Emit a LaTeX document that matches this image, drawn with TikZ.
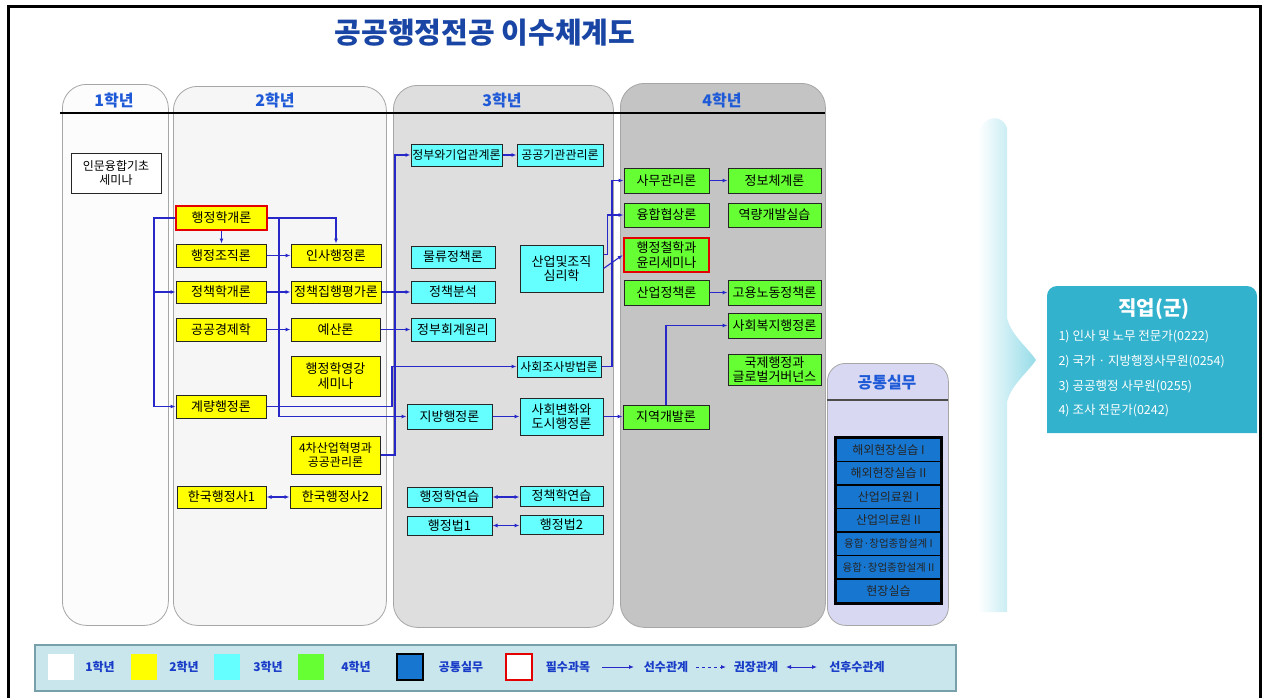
\documentclass[tikz,border=0pt]{standalone}
\usepackage{fontspec}
\newfontfamily\kr{Noto Sans CJK KR}
\usetikzlibrary{arrows.meta}
\definecolor{lineblue}{RGB}{40,40,200}
\definecolor{ybox}{RGB}{255,255,0}
\definecolor{cbox}{RGB}{102,255,255}
\definecolor{gbox}{RGB}{102,255,51}
\definecolor{pbox}{RGB}{22,118,208}
\definecolor{hdr}{RGB}{30,90,215}
\definecolor{ttl}{RGB}{25,70,165}
\definecolor{col1}{RGB}{252,252,252}
\definecolor{col2}{RGB}{246,246,246}
\definecolor{col3}{RGB}{222,222,222}
\definecolor{col4}{RGB}{196,196,196}
\definecolor{colp}{RGB}{216,216,242}
\definecolor{jobc}{RGB}{50,178,204}
\definecolor{legc}{RGB}{200,230,236}
\definecolor{legb}{RGB}{120,160,170}
\definecolor{arrowc}{RGB}{150,220,232}
\definecolor{legtext}{RGB}{25,60,200}
\begin{document}
\begin{tikzpicture}[x=1pt,y=-1pt,
  course/.style={draw=black!85, line width=1pt, inner sep=0pt, align=center, font=\kr\fontsize{13}{14.5}\selectfont},
  yb/.style={course, fill=ybox},
  cb/.style={course, fill=cbox},
  gb/.style={course, fill=gbox},
  wb/.style={course, fill=white},
  req/.style={draw=red!90!black, line width=2.5pt},
  sm/.style={font=\kr\fontsize{12}{13.5}\selectfont},
  pb/.style={draw=black, line width=1.6pt, fill=pbox, inner sep=0pt, minimum width=105, minimum height=23.57, anchor=north, font=\kr\fontsize{12}{13}\selectfont, text=black!85},
  colbox/.style={draw=black!35, line width=0.8pt, rounded corners=24pt, anchor=north west},
  hdrtext/.style={font=\kr\bfseries\fontsize{16}{18}\selectfont, text=hdr},
  conn/.style={draw=lineblue, line width=1.1pt, -{Latex[length=5pt,width=4pt]}},
  both/.style={draw=lineblue, line width=1.1pt, {Latex[length=5pt,width=4pt]}-{Latex[length=5pt,width=4pt]}},
  legsq/.style={minimum width=26, minimum height=26, inner sep=0pt},
  legtxt/.style={font=\kr\bfseries\fontsize{12}{14}\selectfont, text=legtext},
  jobtxt/.style={font=\kr\fontsize{12.5}{14}\selectfont, text=white, anchor=west}
]
\useasboundingbox (0,0) rectangle (1268,697);
\fill[white] (0,0) rectangle (1268,697);
\draw[line width=3pt] (8,6) rectangle (1260,705);

% title
\node[font=\kr\bfseries\fontsize{29}{32}\selectfont, text=ttl] (title) at (485,33) {공공행정전공 이수체계도};

% columns
\node[colbox, fill=col1, minimum width=106, minimum height=541] (c1) at (62,84) {};
\node[colbox, fill=col2, minimum width=213, minimum height=539] (c2) at (173,86) {};
\node[colbox, fill=col3, minimum width=220, minimum height=542] (c3) at (393,85) {};
\node[colbox, fill=col4, minimum width=205, minimum height=544] (c4) at (620,83) {};
\node[colbox, fill=colp, minimum width=121, minimum height=262, rounded corners=18pt] (cp) at (827,363) {};

\node[hdrtext] (h1) at (114,100) {1학년};
\node[hdrtext] (h2) at (275,100) {2학년};
\node[hdrtext] (h3) at (502,100) {3학년};
\node[hdrtext] (h4) at (722,100) {4학년};
\node[hdrtext] (hp) at (887,383) {공통실무};
\draw[line width=1.5pt] (60,113) -- (825,113);
\draw[line width=2pt, black!70] (827,400) -- (948,400);

% year 1
\node[wb, sm, minimum width=90, minimum height=40] (inmun) at (116,173) {인문융합기초\\세미나};

% year 2
\node[yb, req, minimum width=91, minimum height=24] (gaeron) at (221.5,218) {행정학개론};
\node[yb, minimum width=90, minimum height=23] (jojik) at (221,255.5) {행정조직론};
\node[yb, minimum width=90, minimum height=23] (insa) at (336,255.5) {인사행정론};
\node[yb, minimum width=90, minimum height=22] (jcgaeron) at (221,292) {정책학개론};
\node[yb, minimum width=90, minimum height=22] (jiphaeng) at (336,292) {정책집행평가론};
\node[yb, minimum width=90, minimum height=23] (gyeongje) at (221,329.5) {공공경제학};
\node[yb, minimum width=89, minimum height=23] (yesan) at (335.5,329.5) {예산론};
\node[yb, minimum width=89, minimum height=40] (yeonggang) at (335.5,376) {행정학영강\\세미나};
\node[yb, minimum width=90, minimum height=23] (gyeryang) at (221,406.5) {계량행정론};
\node[yb, sm, minimum width=89, minimum height=38] (sacha) at (335.5,455) {4차산업혁명과\\공공관리론};
\node[yb, minimum width=89, minimum height=22] (hs1) at (221.5,497) {한국행정사1};
\node[yb, minimum width=91, minimum height=22] (hs2) at (335.5,497) {한국행정사2};

% year 3
\node[cb, sm, minimum width=91, minimum height=22] (jbgiup) at (456.5,155) {정부와기업관계론};
\node[cb, sm, minimum width=86, minimum height=22] (gonggi) at (560,155) {공공기관관리론};
\node[cb, minimum width=84, minimum height=22] (mulryu) at (453,257) {물류정책론};
\node[cb, minimum width=83, minimum height=47] (sanup) at (561.5,268.5) {산업및조직\\심리학};
\node[cb, minimum width=84, minimum height=22] (bunseok) at (453,292) {정책분석};
\node[cb, minimum width=84, minimum height=23] (hoegye) at (453,329.5) {정부회계원리};
\node[cb, sm, minimum width=84, minimum height=21] (josa) at (559,366.5) {사회조사방법론};
\node[cb, minimum width=85, minimum height=25] (jibang) at (449.5,416.5) {지방행정론};
\node[cb, minimum width=83, minimum height=37] (dosi) at (561.5,416.5) {사회변화와\\도시행정론};
\node[cb, minimum width=85, minimum height=20] (hyeon) at (449.5,497) {행정학연습};
\node[cb, minimum width=83, minimum height=20] (jcyeon) at (561.5,496) {정책학연습};
\node[cb, minimum width=85, minimum height=19] (beop1) at (449.5,525.5) {행정법1};
\node[cb, minimum width=83, minimum height=19] (beop2) at (561.5,524.5) {행정법2};

% year 4
\node[gb, minimum width=85, minimum height=25] (samu) at (666.5,180.5) {사무관리론};
\node[gb, minimum width=93, minimum height=25] (jeongbo) at (774.5,180.5) {정보체계론};
\node[gb, minimum width=85, minimum height=24] (yunghap) at (666.5,215) {융합협상론};
\node[gb, minimum width=93, minimum height=24] (yeoklyang) at (774.5,215) {역량개발실습};
\node[gb, req, minimum width=85, minimum height=34] (cheolhak) at (666.5,255) {행정철학과\\윤리세미나};
\node[gb, minimum width=85, minimum height=25] (saneopjc) at (666.5,292.5) {산업정책론};
\node[gb, minimum width=93, minimum height=25] (goyong) at (774.5,292.5) {고용노동정책론};
\node[gb, minimum width=93, minimum height=25] (bokji) at (774.5,325.5) {사회복지행정론};
\node[gb, minimum width=93, minimum height=31] (gukje) at (774.5,369.5) {국제행정과\\글로벌거버넌스};
\node[gb, minimum width=86, minimum height=24] (jiyeok) at (666,417) {지역개발론};

% common practice
\node[pb] (p1) at (888.5,437) {해외현장실습 I};
\node[pb] (p2) at (888.5,460.57) {해외현장실습 II};
\node[pb] (p3) at (888.5,484.14) {산업의료원 I};
\node[pb] (p4) at (888.5,507.71) {산업의료원 II};
\node[pb, font=\kr\fontsize{10.5}{12}\selectfont] (p5) at (888.5,531.29) {융합·창업종합설계 I};
\node[pb, font=\kr\fontsize{10.5}{12}\selectfont] (p6) at (888.5,554.86) {융합·창업종합설계 II};
\node[pb] (p7) at (888.5,578.43) {현장실습};
\draw[line width=2.2pt] (p1.north west) rectangle (p7.south east);

% connectors
\draw[conn] (gaeron.west) -- (154,218) |- (gyeryang.west);
\draw[conn] (154,292) -- (jcgaeron.west);
\draw[conn] (gaeron.south) -- (gaeron.south |- jojik.north);
\draw[conn] (gaeron.east) -| (insa.north);
\draw[conn] (279,218) |- (jibang.west);
\draw[conn] (jojik.east) -- (insa.west);
\draw[conn] (jcgaeron.east) -- (jiphaeng.west);
\draw[conn] (gyeongje.east) -- (yesan.west);
\draw[conn] (jiphaeng.east) -- (bunseok.west);
\draw[conn] (yesan.east) -- (hoegye.west);
\draw[conn] (gyeryang.east) -- (392,406.5) |- (josa.west);
\draw[conn] (sacha.east) -- (395,455) |- (jbgiup.west);
\draw[conn] (jbgiup.east) -- (gonggi.west);
\draw[conn] ([yshift=-10pt]sanup.north east) -- ++(4,0) |- (yunghap.west);
\draw[conn] (sanup.east) -- (cheolhak.west);
\draw[conn] (josa.east) -- (612,366.5) |- (samu.west);
\draw[conn] (samu.east) -- (jeongbo.west);
\draw[conn] (saneopjc.east) -- (goyong.west);
\draw[conn] (jibang.east) -- (dosi.west);
\draw[conn] (dosi.east) -- (dosi.east -| jiyeok.west);
\draw[conn] (jiyeok.north) |- (bokji.west);
\draw[both] (hyeon.east) -- (hyeon.east -| jcyeon.west);
\draw[both] (beop1.east) -- (beop1.east -| beop2.west);
\draw[both] (hs1.east) -- (hs2.west);

% big arrow
\shade[left color=white, right color=arrowc]
  (978,140) .. controls (978,118) and (1000,110) .. (1007,128) -- (1007,318)
  .. controls (1011,335) and (1028,348) .. (1036,360)
  .. controls (1028,372) and (1011,385) .. (1007,402) -- (1007,612) -- (978,612) -- cycle;

% job box
\fill[jobc] (1047,433) [rounded corners=10pt] -- (1047,286) -- (1257,286) [sharp corners] -- (1257,433) -- cycle;
\node[font=\kr\bfseries\fontsize{20}{22}\selectfont, text=white] (jobt) at (1154,309) {직업(군)};
\node[jobtxt] (j1) at (1055,337) {1) 인사 및 노무 전문가(0222)};
\node[jobtxt] (j2) at (1055,362) {2) 국가 · 지방행정사무원(0254)};
\node[jobtxt] (j3) at (1055,387) {3) 공공행정 사무원(0255)};
\node[jobtxt] (j4) at (1055,411) {4) 조사 전문가(0242)};

% legend
\node[draw=legb, fill=legc, line width=1.5pt, minimum width=921, minimum height=46, anchor=north west, inner sep=0pt] (legend) at (34,644) {};
\node[legsq, fill=white] (l1) at (61,667) {};
\node[legtxt] (lt1) at (100,667) {1학년};
\node[legsq, fill=ybox] (l2) at (144,667) {};
\node[legtxt] (lt2) at (184,667) {2학년};
\node[legsq, fill=cbox] (l3) at (227,667) {};
\node[legtxt] (lt3) at (268,667) {3학년};
\node[legsq, fill=gbox] (l4) at (311,667) {};
\node[legtxt] (lt4) at (356,667) {4학년};
\node[legsq, fill=pbox, draw=black, line width=2pt] (l5) at (410,667) {};
\node[legtxt] (lt5) at (461,667) {공통실무};
\node[legsq, fill=white, draw=red!90!black, line width=2pt] (l6) at (519,667) {};
\node[legtxt] (lt6) at (568,667) {필수과목};
\coordinate (a1s) at (602,667); \coordinate (a1e) at (634,667);
\draw[conn, line width=0.9pt] (a1s) -- (a1e);
\node[legtxt] (lt7) at (666,667) {선수관계};
\coordinate (a2s) at (696,667); \coordinate (a2e) at (726,667);
\draw[conn, line width=0.9pt, dashed] (a2s) -- (a2e);
\node[legtxt] (lt8) at (756,667) {권장관계};
\coordinate (a3s) at (786,667); \coordinate (a3e) at (817,667);
\draw[both, line width=0.9pt] (a3s) -- (a3e);
\node[legtxt] (lt9) at (857,667) {선후수관계};
\end{tikzpicture}
\end{document}
